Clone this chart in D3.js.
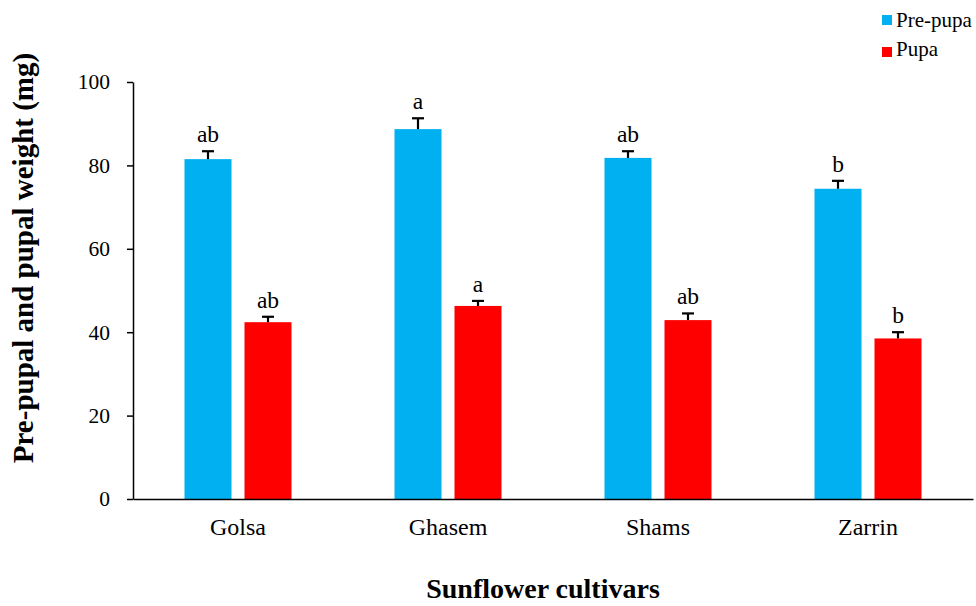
<!DOCTYPE html>
<html>
<head>
<meta charset="utf-8">
<script src="https://cdn.jsdelivr.net/npm/d3@7"></script>
<style>
  body { margin: 0; background: #fff; }
  svg { display: block; }
  text { font-family: "Liberation Serif", "Times New Roman", serif; fill: #000; }
</style>
</head>
<body>
<svg id="chart" width="976" height="606"></svg>
<script>
const categories = ["Golsa", "Ghasem", "Shams", "Zarrin"];
const seriesNames = ["Pre-pupa", "Pupa"];
const prePupa = [81.5, 88.7, 81.8, 74.4];
const pupa = [42.4, 46.3, 42.9, 38.5];
const prePupaErr = [1.9, 2.6, 1.6, 1.9];
const pupaErr = [1.3, 1.2, 1.6, 1.5];
const prePupaLetters = ["ab", "a", "ab", "b"];
const pupaLetters = ["ab", "a", "ab", "b"];
const yTicks = [0, 20, 40, 60, 80, 100];
const colors = ["#00B0F0", "#FF0000"];

const svg = d3.select("#chart");
const margin = { left: 133, right: 3, top: 82, bottom: 107 };
const W = 976, H = 606;
const x0 = margin.left, x1 = W - margin.right;
const yTop = margin.top, yBot = H - margin.bottom;
const SERIF = "Liberation Serif, Times New Roman, serif";

const x = d3.scaleBand().domain(categories).range([x0, x1]).paddingInner(0).paddingOuter(0);
const xs = d3.scaleBand().domain(seriesNames).range([0, 107]).paddingInner(13 / 60);
const y = d3.scaleLinear().domain([0, 100]).range([yBot, yTop]);

const groupOffset = (x.bandwidth() - 107) / 2;

const data = [];
categories.forEach((c, i) => {
  data.push({ cat: c, s: seriesNames[0], v: prePupa[i], e: prePupaErr[i], l: prePupaLetters[i], col: colors[0] });
  data.push({ cat: c, s: seriesNames[1], v: pupa[i], e: pupaErr[i], l: pupaLetters[i], col: colors[1] });
});

// bars
svg.append("g").selectAll("rect").data(data).join("rect")
  .attr("x", d => x(d.cat) + groupOffset + xs(d.s))
  .attr("width", xs.bandwidth())
  .attr("y", d => y(d.v))
  .attr("height", d => y(0) - y(d.v))
  .attr("fill", d => d.col);

// error bars (upper only)
const eg = svg.append("g").attr("stroke", "#000").attr("stroke-width", 2.2);
data.forEach(d => {
  const cx = x(d.cat) + groupOffset + xs(d.s) + xs.bandwidth() / 2;
  eg.append("line").attr("x1", cx).attr("x2", cx).attr("y1", y(d.v)).attr("y2", y(d.v + d.e));
  eg.append("line").attr("x1", cx - 6).attr("x2", cx + 6).attr("y1", y(d.v + d.e)).attr("y2", y(d.v + d.e));
});

// letters
svg.append("g").selectAll("text").data(data).join("text")
  .attr("x", d => x(d.cat) + groupOffset + xs(d.s) + xs.bandwidth() / 2)
  .attr("y", d => y(d.v + d.e) - 9)
  .attr("text-anchor", "middle")
  .attr("font-size", 23.5)
  .text(d => d.l);

// y axis
const yAxis = svg.append("g").attr("transform", `translate(${x0},0)`)
  .call(d3.axisLeft(y).tickValues(yTicks).tickSize(6).tickPadding(17).tickSizeOuter(0));
yAxis.select(".domain").attr("stroke", "#000").attr("stroke-width", 1.5);
yAxis.selectAll(".tick line").attr("stroke", "#000").attr("stroke-width", 1.5);
yAxis.selectAll(".tick text").attr("font-size", 21.5).attr("font-family", SERIF).attr("fill", "#000");

// x axis
const xAxis = svg.append("g").attr("transform", `translate(0,${yBot})`)
  .call(d3.axisBottom(x).tickSize(0).tickSizeOuter(0));
xAxis.select(".domain").attr("stroke", "#000").attr("stroke-width", 1.5);
xAxis.selectAll(".tick text").attr("font-size", 24).attr("font-family", SERIF).attr("fill", "#000")
  .attr("dy", null).attr("y", 36);

// axis titles
svg.append("text")
  .attr("x", 543)
  .attr("y", 598)
  .attr("text-anchor", "middle")
  .attr("font-size", 28)
  .attr("font-weight", "bold")
  .text("Sunflower cultivars");

svg.append("text")
  .attr("transform", `translate(33,258) rotate(-90)`)
  .attr("text-anchor", "middle")
  .attr("font-size", 29)
  .attr("font-weight", "bold")
  .text("Pre-pupal and pupal weight (mg)");

// legend
const lg = svg.append("g");
seriesNames.forEach((s, i) => {
  lg.append("rect").attr("x", 882).attr("y", 15 + i * 32).attr("width", 10).attr("height", 10).attr("fill", colors[i]);
  lg.append("text").attr("x", 896).attr("y", 27 + i * 29).attr("font-size", 21).text(s);
});
</script>
</body>
</html>
